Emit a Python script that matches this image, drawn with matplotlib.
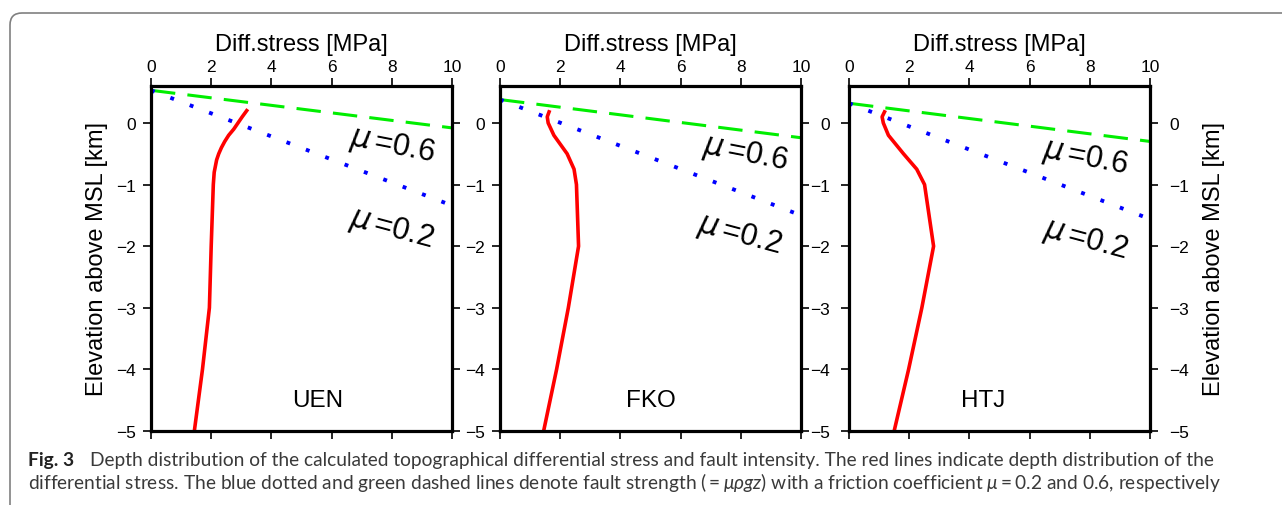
import matplotlib
matplotlib.use("Agg")
import matplotlib.pyplot as plt
from matplotlib.patches import FancyBboxPatch

# station names and where the station label sits
stations = ["UEN", "FKO", "HTJ"]
name_x = [5.55, 5.0, 4.45]

# red curves: differential stress vs elevation
uen_elev = [0.2, 0.1, 0.0, -0.1, -0.2, -0.3, -0.4, -0.5, -0.6, -0.7, -0.8, -1.0, -2.0, -3.0, -4.0, -5.0]
uen_stress = [3.18, 3.03, 2.89, 2.75, 2.58, 2.45, 2.34, 2.25, 2.18, 2.14, 2.1, 2.07, 2.0, 1.94, 1.71, 1.44]
fko_elev = [0.18, 0.1, 0.0, -0.2, -0.5, -0.75, -1.0, -2.0, -3.0, -4.0, -5.0]
fko_stress = [1.63, 1.57, 1.6, 1.79, 2.23, 2.46, 2.54, 2.61, 2.27, 1.88, 1.45]
htj_elev = [0.18, 0.1, 0.0, -0.2, -0.5, -0.75, -1.0, -2.0, -3.0, -4.0, -5.0]
htj_stress = [1.18, 1.1, 1.14, 1.31, 1.81, 2.25, 2.51, 2.81, 2.42, 1.98, 1.5]
red_x = [uen_stress, fko_stress, htj_stress]
red_y = [uen_elev, fko_elev, htj_elev]

# fault strength lines (stress 0 -> 10 MPa), elevation at both ends
fs_stress = [0, 10]
mu06_elev = [[0.53, -0.08], [0.38, -0.24], [0.32, -0.30]]
mu02_elev = [[0.53, -1.34], [0.38, -1.50], [0.32, -1.56]]

# mu label positions (x, y)
lab06 = [(8.0, -0.36), (8.15, -0.48), (7.85, -0.56)]
lab02 = [(8.0, -1.7), (7.95, -1.8), (7.85, -1.88)]

W, H = 1282, 506
fig = plt.figure(figsize=(W / 100, H / 100), dpi=100)
plt.rcParams['font.family'] = ['Liberation Sans', 'DejaVu Sans']

lefts = [151, 500, 849]
for i in range(3):
    ax = fig.add_axes([lefts[i] / W, 1 - 432 / H, 301 / W, 345 / H])
    ax.plot(fs_stress, mu06_elev[i], color='#00ee00', lw=2.2, ls=(0, (8, 4)))
    ax.plot(fs_stress, mu02_elev[i], color='#0000ff', lw=2.8, ls=(0, (1, 4.33)))
    ax.plot(red_x[i], red_y[i], color='#ff0000', lw=2.6, solid_joinstyle='round')
    ax.set_xlim(0, 10)
    ax.set_ylim(-5, 0.6)
    ax.set_xticks([0, 2, 4, 6, 8, 10])
    ax.set_yticks([-5, -4, -3, -2, -1, 0])
    ax.set_yticklabels(['\u22125', '\u22124', '\u22123', '\u22122', '\u22121', '0'])
    ax.xaxis.set_label_position('top')
    ax.set_xlabel('Diff.stress [MPa]', fontsize=17, labelpad=6)
    ax.tick_params(axis='x', top=True, bottom=True, labeltop=True, labelbottom=False,
                   direction='out', length=6, width=1.2, labelsize=12.5, pad=3)
    ax.tick_params(axis='y', left=True, right=True, direction='out', length=6,
                   width=1.2, labelsize=12.5, pad=5)
    if i == 2:
        ax.tick_params(axis='y', labelright=True, pad=8)
        ax.yaxis.set_label_position('right')
        ax.set_ylabel('Elevation above MSL [km]', fontsize=17, labelpad=10)
    if i == 0:
        ax.set_ylabel('Elevation above MSL [km]', fontsize=17, labelpad=6)
    for s in ax.spines.values():
        s.set_linewidth(2.3)
    ax.text(name_x[i], -4.5, stations[i], fontsize=17.5, ha='center', va='center')
    ax.text(lab06[i][0], lab06[i][1], r'$\mu\,$=0.6', fontsize=22, ha='center',
            va='center', rotation=-11, math_fontfamily='dejavusans')
    ax.text(lab02[i][0], lab02[i][1], r'$\mu\,$=0.2', fontsize=22, ha='center',
            va='center', rotation=-15, math_fontfamily='dejavusans')

# caption
plt.rcParams['mathtext.fontset'] = 'custom'
plt.rcParams['mathtext.rm'] = 'Lato'
plt.rcParams['mathtext.it'] = 'Lato:italic'
cap = dict(fontsize=13.8, family='Lato', color='#3a3a3a', va='baseline')
fig.text(28 / W, 1 - 466 / H, 'Fig. 3', fontsize=13.8, family='Lato',
         weight='bold', color='#222222', va='baseline')
fig.text(90 / W, 1 - 466 / H, 'Depth distribution of the calculated topographical differential '
         'stress and fault intensity. The red lines indicate depth distribution of the', **cap)
fig.text(28 / W, 1 - 489 / H, 'differential stress. The blue dotted and green dashed lines denote '
         r'fault strength $(=\mu\rho gz)$ with a friction coefficient $\mu = $0.2 and 0.6, respectively',
         math_fontfamily='custom', **cap)

box = FancyBboxPatch((10, -20), 1300, H - 14 + 20, boxstyle='round,pad=0,rounding_size=12',
                     transform=None, fill=False, ec='#808080', lw=1.2)
fig.add_artist(box)

fig.savefig('out.png', dpi=100)
